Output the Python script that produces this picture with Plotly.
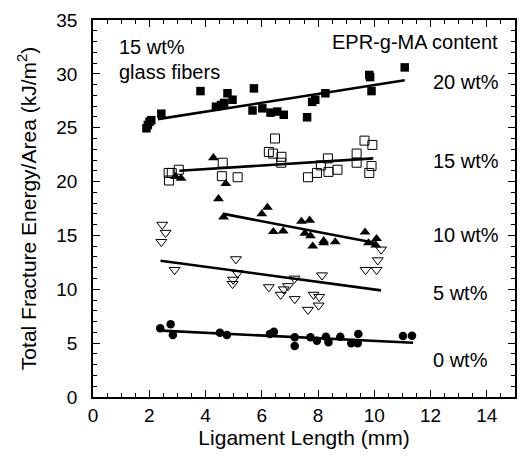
import plotly.graph_objects as go

# ---- data ----
x20 = [1.90, 1.95, 2.01, 2.07, 2.43, 3.82, 4.37, 4.55, 4.66, 4.78, 4.96, 5.72, 5.67, 6.02, 6.31, 6.55, 6.78, 7.61, 7.79, 7.90, 8.26, 9.82, 9.85, 9.90, 11.08]
y20 = [24.95, 25.25, 25.56, 25.7, 26.3, 28.4, 26.95, 27.1, 27.3, 28.2, 27.6, 28.65, 26.6, 26.8, 26.4, 26.5, 26.2, 25.97, 27.4, 27.6, 28.2, 29.9, 29.7, 28.4, 30.6]

x15 = [2.69, 2.70, 2.80, 3.05, 4.61, 4.58, 5.14, 6.25, 6.40, 6.47, 6.70, 6.69, 7.64, 7.96, 8.10, 8.35, 8.37, 8.69, 9.37, 9.37, 9.65, 9.93, 9.90, 9.82]
y15 = [20.8, 20.1, 20.8, 21.1, 21.75, 20.5, 20.4, 22.75, 22.6, 24.0, 22.3, 21.75, 20.4, 20.8, 21.5, 22.15, 20.9, 21.1, 22.6, 21.75, 23.8, 23.4, 21.45, 20.8]

x10 = [2.93, 3.13, 4.28, 4.72, 4.46, 4.64, 6.00, 6.20, 6.41, 6.76, 7.41, 7.70, 7.53, 7.73, 7.81, 8.20, 8.20, 8.61, 9.67, 9.79, 10.08, 10.05]
y10 = [20.45, 20.3, 22.2, 19.8, 18.4, 16.7, 17.0, 17.6, 15.35, 15.4, 16.3, 16.4, 15.2, 14.95, 14.0, 14.5, 14.3, 14.4, 15.3, 14.3, 14.7, 14.1]

x5 = [2.46, 2.58, 2.43, 2.90, 5.08, 5.14, 4.98, 4.96, 6.25, 6.67, 6.78, 6.93, 7.16, 7.17, 8.14, 7.84, 8.04, 8.02, 7.64, 9.69, 10.08, 10.12, 10.24]
y5 = [16.0, 15.25, 14.4, 11.8, 12.8, 11.5, 10.9, 10.5, 10.2, 9.5, 10.0, 10.3, 11.0, 9.1, 11.3, 9.5, 9.3, 8.5, 8.1, 11.8, 11.8, 12.7, 13.7]

x0 = [2.39, 2.76, 2.84, 4.51, 4.76, 6.29, 6.43, 7.17, 7.17, 7.73, 7.96, 8.28, 8.37, 8.79, 9.18, 9.41, 9.43, 11.02, 11.34]
y0 = [6.38, 6.75, 5.75, 5.97, 5.75, 5.85, 6.06, 5.54, 4.74, 5.54, 5.23, 5.6, 5.08, 5.6, 4.98, 4.98, 5.85, 5.66, 5.69]

# linear fit lines (end points)
fit20_x = [2.31, 11.08]
fit20_y = [25.8, 29.4]
fit15_x = [3.07, 9.96]
fit15_y = [21.0, 22.15]
fit10_x = [4.64, 10.05]
fit10_y = [17.0, 14.3]
fit5_x = [2.40, 10.24]
fit5_y = [12.65, 9.9]
fit0_x = [2.43, 11.38]
fit0_y = [6.16, 5.04]

labels = ["20 wt%", "15 wt%", "10 wt%", "5 wt%", "0 wt%"]
label_y = [29.25, 21.9, 15.0, 9.7, 3.4]

FONT = "Liberation Sans, Arial, Helvetica, sans-serif"

fig = go.Figure()

series = [
    (x20, y20, "square", 8.5, 0),
    (x15, y15, "square-open", 9, 1),
    (x10, y10, "triangle-up", 9.5, 0),
    (x5, y5, "triangle-down-open", 9.5, 1),
    (x0, y0, "circle", 8.5, 0),
]
for xs, ys, sym, sz, lw in series:
    fig.add_trace(go.Scatter(
        x=xs, y=ys, mode="markers",
        marker=dict(symbol=sym, size=sz, color="black",
                    line=dict(color="black", width=lw)),
        showlegend=False))

for fx, fy in [(fit20_x, fit20_y), (fit15_x, fit15_y), (fit10_x, fit10_y),
               (fit5_x, fit5_y), (fit0_x, fit0_y)]:
    fig.add_trace(go.Scatter(x=fx, y=fy, mode="lines",
                             line=dict(color="black", width=2.6),
                             showlegend=False))

for t, ly in zip(labels, label_y):
    fig.add_annotation(x=12.0, y=ly, xref="x", yref="y", text=t,
                       showarrow=False, xanchor="left", yanchor="middle",
                       font=dict(size=20, color="black", family=FONT))

fig.add_annotation(x=0.85, y=32.5, xref="x", yref="y", text="15 wt%",
                   showarrow=False, xanchor="left", yanchor="middle",
                   font=dict(size=20, color="black", family=FONT))
fig.add_annotation(x=0.85, y=30.2, xref="x", yref="y", text="glass fibers",
                   showarrow=False, xanchor="left", yanchor="middle",
                   font=dict(size=20, color="black", family=FONT))
fig.add_annotation(x=14.47, y=33.0, xref="x", yref="y", text="EPR-g-MA content",
                   showarrow=False, xanchor="right", yanchor="middle",
                   font=dict(size=20, color="black", family=FONT))

axis_common = dict(
    showgrid=False, zeroline=False, showline=True, linecolor="black",
    linewidth=1.5, mirror="allticks", ticks="inside", ticklen=7,
    tickwidth=1.2, tickcolor="black",
    tickfont=dict(size=19, color="black", family=FONT),
)

fig.update_xaxes(range=[0, 15], dtick=2, tick0=0,
                 minor=dict(dtick=0.5, ticks="inside", ticklen=4, tickcolor="black", tickwidth=1),
                 title=dict(text="Ligament Length (mm)", standoff=2,
                            font=dict(size=21, color="black", family=FONT)),
                 ticklabelstandoff=0,
                 **axis_common)
fig.update_yaxes(range=[0, 35], dtick=5, tick0=0,
                 minor=dict(dtick=1, ticks="inside", ticklen=4, tickcolor="black", tickwidth=1),
                 title=dict(text="Total Fracture Energy/Area (kJ/m<sup>2</sup>)", standoff=14,
                            font=dict(size=21, color="black", family=FONT)),
                 ticklabelstandoff=10,
                 **axis_common)

fig.update_layout(
    width=523, height=461,
    margin=dict(l=93, r=6, t=20, b=64),
    paper_bgcolor="white", plot_bgcolor="white",
    font=dict(family=FONT, color="black"),
)

fig.write_html("out.html")
